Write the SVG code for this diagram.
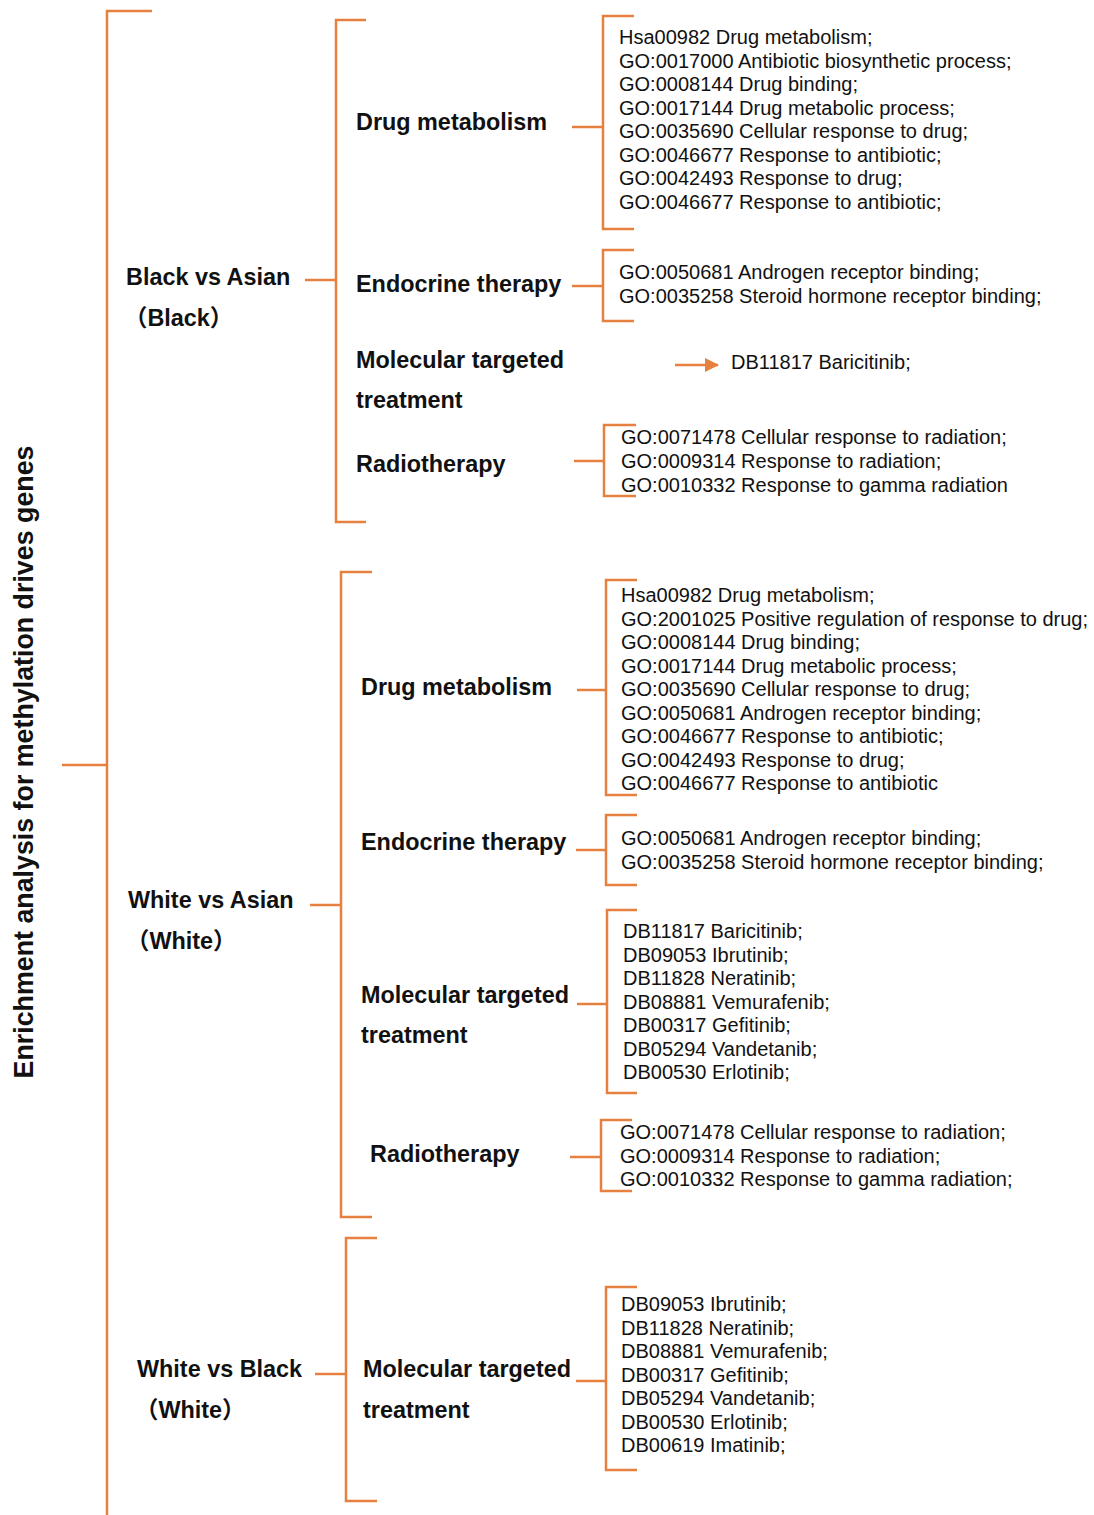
<svg xmlns="http://www.w3.org/2000/svg" width="1094" height="1515" viewBox="0 0 1094 1515">
<style>
.ln{stroke:#E5803F;stroke-width:2.5;fill:none}
.lb{font-family:"Liberation Sans",Arial,"Noto Sans CJK SC",sans-serif;font-weight:bold;font-size:23.4px;fill:#111}
.it{font-family:"Liberation Sans",Arial,sans-serif;font-size:20px;fill:#111}
.ti{font-family:"Liberation Sans",Arial,sans-serif;font-weight:bold;font-size:26.8px;fill:#111}
</style>
<defs>
<marker id="ah" markerWidth="14" markerHeight="14" refX="13" refY="7" orient="auto" markerUnits="userSpaceOnUse">
<path d="M0,0 L14,7 L0,14 Z" fill="#E5803F"/>
</marker>
</defs>
<rect width="1094" height="1515" fill="#fff"/>

<g id="connectors">
<path class="ln" d="M152,11 H107 V1515"/>
<path class="ln" d="M62,765 H107"/>
<path class="ln" d="M366,20 H336 V522 H366"/>
<path class="ln" d="M305,280 H336"/>
<path class="ln" d="M572,127 H603"/>
<path class="ln" d="M634,16 H603 V229 H634"/>
<path class="ln" d="M572,286 H603"/>
<path class="ln" d="M634,250 H603 V321 H634"/>
<path class="ln" d="M675,365 H718" marker-end="url(#ah)"/>
<path class="ln" d="M574,461 H604"/>
<path class="ln" d="M636,425 H604 V496 H636"/>
<path class="ln" d="M372,572 H341 V1217 H372"/>
<path class="ln" d="M310,905 H341"/>
<path class="ln" d="M577,690 H606"/>
<path class="ln" d="M637,580 H606 V795 H637"/>
<path class="ln" d="M576,850 H606"/>
<path class="ln" d="M637,815 H606 V885 H637"/>
<path class="ln" d="M577,1004 H607"/>
<path class="ln" d="M637,910 H607 V1093 H637"/>
<path class="ln" d="M570,1157 H601"/>
<path class="ln" d="M632,1120 H601 V1191 H632"/>
<path class="ln" d="M377,1238 H346 V1501 H377"/>
<path class="ln" d="M315,1374 H346"/>
<path class="ln" d="M576,1381 H606"/>
<path class="ln" d="M637,1287 H606 V1470 H637"/>
</g>

<g id="title">
<text class="ti" transform="translate(33,762) rotate(-90)" text-anchor="middle">Enrichment analysis for methylation drives genes</text>
</g>

<g id="black-vs-asian">
<text class="lb" x="126" y="285">Black vs Asian</text>
<text class="lb" x="124" y="326">（Black）</text>
</g>
<g id="bva-drug">
<text class="lb" x="356" y="130">Drug metabolism</text>
</g>
<g id="bva-drug-items">
<text class="it" x="619" y="44">Hsa00982 Drug metabolism;</text>
<text class="it" x="619" y="67.5">GO:0017000 Antibiotic biosynthetic process;</text>
<text class="it" x="619" y="91">GO:0008144 Drug binding;</text>
<text class="it" x="619" y="114.5">GO:0017144 Drug metabolic process;</text>
<text class="it" x="619" y="138">GO:0035690 Cellular response to drug;</text>
<text class="it" x="619" y="161.5">GO:0046677 Response to antibiotic;</text>
<text class="it" x="619" y="185">GO:0042493 Response to drug;</text>
<text class="it" x="619" y="208.5">GO:0046677 Response to antibiotic;</text>
</g>
<g id="bva-endo">
<text class="lb" x="356" y="292">Endocrine therapy</text>
</g>
<g id="bva-endo-items">
<text class="it" x="619" y="279">GO:0050681 Androgen receptor binding;</text>
<text class="it" x="619" y="303">GO:0035258 Steroid hormone receptor binding;</text>
</g>
<g id="bva-mol">
<text class="lb" x="356" y="368">Molecular targeted</text>
<text class="lb" x="356" y="408">treatment</text>
</g>
<g id="bva-mol-items">
<text class="it" x="731" y="369">DB11817 Baricitinib;</text>
</g>
<g id="bva-radio">
<text class="lb" x="356" y="472">Radiotherapy</text>
</g>
<g id="bva-radio-items">
<text class="it" x="621" y="444">GO:0071478 Cellular response to radiation;</text>
<text class="it" x="621" y="468">GO:0009314 Response to radiation;</text>
<text class="it" x="621" y="492">GO:0010332 Response to gamma radiation</text>
</g>

<g id="white-vs-asian">
<text class="lb" x="128" y="908">White vs Asian</text>
<text class="lb" x="126" y="949">（White）</text>
</g>
<g id="wva-drug">
<text class="lb" x="361" y="695">Drug metabolism</text>
</g>
<g id="wva-drug-items">
<text class="it" x="621" y="602">Hsa00982 Drug metabolism;</text>
<text class="it" x="621" y="625.5">GO:2001025 Positive regulation of response to drug;</text>
<text class="it" x="621" y="649">GO:0008144 Drug binding;</text>
<text class="it" x="621" y="672.5">GO:0017144 Drug metabolic process;</text>
<text class="it" x="621" y="696">GO:0035690 Cellular response to drug;</text>
<text class="it" x="621" y="719.5">GO:0050681 Androgen receptor binding;</text>
<text class="it" x="621" y="743">GO:0046677 Response to antibiotic;</text>
<text class="it" x="621" y="766.5">GO:0042493 Response to drug;</text>
<text class="it" x="621" y="790">GO:0046677 Response to antibiotic</text>
</g>
<g id="wva-endo">
<text class="lb" x="361" y="850">Endocrine therapy</text>
</g>
<g id="wva-endo-items">
<text class="it" x="621" y="845">GO:0050681 Androgen receptor binding;</text>
<text class="it" x="621" y="869">GO:0035258 Steroid hormone receptor binding;</text>
</g>
<g id="wva-mol">
<text class="lb" x="361" y="1003">Molecular targeted</text>
<text class="lb" x="361" y="1043">treatment</text>
</g>
<g id="wva-mol-items">
<text class="it" x="623" y="938">DB11817 Baricitinib;</text>
<text class="it" x="623" y="961.5">DB09053 Ibrutinib;</text>
<text class="it" x="623" y="985">DB11828 Neratinib;</text>
<text class="it" x="623" y="1008.5">DB08881 Vemurafenib;</text>
<text class="it" x="623" y="1032">DB00317 Gefitinib;</text>
<text class="it" x="623" y="1055.5">DB05294 Vandetanib;</text>
<text class="it" x="623" y="1079">DB00530 Erlotinib;</text>
</g>
<g id="wva-radio">
<text class="lb" x="370" y="1162">Radiotherapy</text>
</g>
<g id="wva-radio-items">
<text class="it" x="620" y="1139">GO:0071478 Cellular response to radiation;</text>
<text class="it" x="620" y="1162.5">GO:0009314 Response to radiation;</text>
<text class="it" x="620" y="1186">GO:0010332 Response to gamma radiation;</text>
</g>

<g id="white-vs-black">
<text class="lb" x="137" y="1377">White vs Black</text>
<text class="lb" x="135" y="1418">（White）</text>
</g>
<g id="wvb-mol">
<text class="lb" x="363" y="1377">Molecular targeted</text>
<text class="lb" x="363" y="1418">treatment</text>
</g>
<g id="wvb-mol-items">
<text class="it" x="621" y="1311">DB09053 Ibrutinib;</text>
<text class="it" x="621" y="1334.5">DB11828 Neratinib;</text>
<text class="it" x="621" y="1358">DB08881 Vemurafenib;</text>
<text class="it" x="621" y="1381.5">DB00317 Gefitinib;</text>
<text class="it" x="621" y="1405">DB05294 Vandetanib;</text>
<text class="it" x="621" y="1428.5">DB00530 Erlotinib;</text>
<text class="it" x="621" y="1452">DB00619 Imatinib;</text>
</g>
</svg>
